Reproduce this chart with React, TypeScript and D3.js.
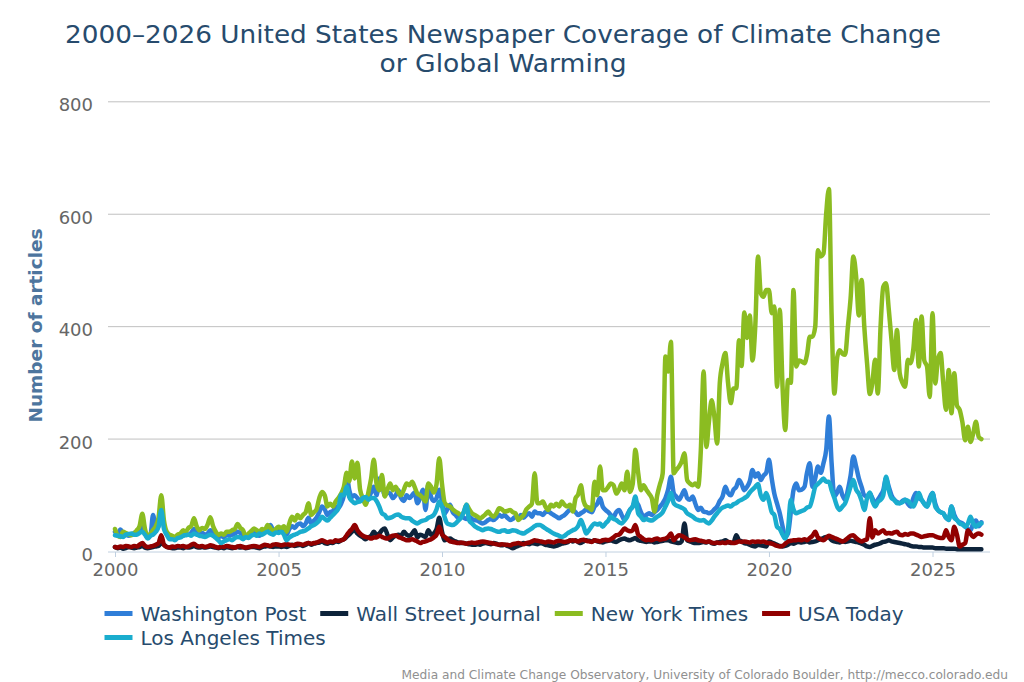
import React, { useEffect, useRef } from "react";
import * as d3 from "d3";

// monthly article counts, Jan 2000 .. Jul 2026 (one row per year)
const firstMonth = new Date(2000, 0, 1);
const lastMonth = new Date(2026, 6, 1);

const tickYears = [2000, 2005, 2010, 2015, 2020, 2025];
const yTicks = [0, 200, 400, 600, 800];

const seriesNames = ["Washington Post", "Wall Street Journal", "New York Times", "USA Today", "Los Angeles Times"];
const seriesColors = ["#2f7ed8", "#0d233a", "#8bbc21", "#910000", "#1aadce"];

const washingtonPost = [
  35, 30, 39, 32, 30, 28, 30, 33, 35, 38, 50, 35,
  25, 30, 65, 40, 45, 72, 45, 30, 28, 26, 25, 28,
  30, 28, 32, 30, 33, 40, 32, 30, 33, 30, 32, 38,
  35, 28, 25, 28, 25, 30, 28, 30, 32, 35, 33, 30,
  25, 28, 30, 33, 30, 28, 32, 35, 40, 47, 38, 35,
  41, 38, 35, 30, 40, 45, 42, 48, 50, 45, 50, 60,
  50, 55, 60, 70, 80, 75, 65, 70, 72, 80, 78, 85,
  100, 136, 110, 97, 100, 95, 90, 95, 86, 95, 105, 115,
  100, 130, 120, 100, 105, 103, 95, 100, 109, 95, 90, 100,
  95, 100, 105, 86, 95, 110, 74, 120, 97, 90, 95, 110,
  90, 68, 75, 83, 70, 65, 60, 62, 60, 58, 62, 58,
  56, 55, 52, 50, 52, 56, 58, 56, 60, 65, 62, 65,
  60, 56, 58, 62, 60, 65, 60, 65, 68, 62, 71, 68,
  68, 65, 70, 71, 68, 65, 62, 59, 62, 65, 70, 74,
  74, 70, 65, 68, 71, 75, 72, 70, 80, 85, 95, 80,
  74, 70, 65, 62, 70, 74, 65, 56, 65, 74, 80, 90,
  83, 70, 62, 65, 68, 65, 70, 74, 80, 86, 95, 110,
  133, 104, 98, 92, 100, 109, 95, 92, 98, 85, 74, 78,
  71, 70, 68, 70, 75, 80, 90, 98, 115, 104, 100, 110,
  115, 127, 120, 109, 115, 125, 145, 133, 139, 127, 135, 140,
  163, 130, 103, 85, 68, 45, 26, 32, 70, 109, 121, 109,
  110, 115, 140, 157, 115, 130, 151, 140, 157, 180, 240, 157,
  98, 105, 115, 100, 92, 110, 135, 169, 151, 130, 115, 100,
  98, 103, 95, 85, 92, 100, 109, 130, 115, 100, 92, 88,
  86, 90, 92, 85, 80, 95, 104, 95, 92, 85, 80, 95,
  104, 85, 74, 70, 68, 60, 56, 80, 65, 56, 52, 50,
  45, 40, 38, 50, 55, 45, 52,
];

const wallStreetJournal = [
  8, 6, 7, 5, 6, 8, 7, 6, 7, 8, 10, 7,
  6, 7, 8, 9, 10, 15, 12, 8, 7, 6, 6, 7,
  7, 6, 8, 7, 8, 10, 8, 7, 8, 7, 8, 9,
  8, 7, 6, 7, 6, 8, 7, 6, 7, 8, 7, 8,
  6, 7, 8, 8, 7, 6, 8, 9, 10, 9, 8, 9,
  9, 8, 9, 8, 10, 12, 10, 11, 12, 10, 12, 15,
  12, 14, 15, 16, 18, 15, 14, 16, 15, 18, 17, 20,
  22, 26, 30, 35, 38, 32, 28, 25, 22, 25, 28, 35,
  30, 32, 38, 41, 30, 20, 25, 28, 30, 28, 35, 30,
  28, 32, 38, 25, 30, 28, 26, 38, 30, 32, 40, 60,
  35, 20, 22, 23, 20, 18, 16, 15, 15, 14, 13, 12,
  12, 13, 12, 14, 15, 14, 13, 15, 14, 12, 11, 12,
  10, 8, 6, 8, 10, 12, 15, 14, 13, 15, 14, 13,
  15, 14, 12, 11, 10, 9, 10, 12, 14, 15, 16, 20,
  18, 20, 17, 15, 18, 20, 19, 18, 20, 18, 17, 16,
  18, 19, 20, 18, 17, 20, 22, 23, 21, 20, 22, 24,
  20, 19, 18, 17, 18, 18, 16, 17, 18, 19, 20, 20,
  18, 17, 16, 15, 18, 50, 20, 18, 16, 15, 15, 16,
  17, 16, 18, 15, 14, 16, 17, 18, 20, 17, 15, 16,
  29, 20, 18, 15, 14, 12, 10, 9, 12, 11, 10, 9,
  18, 16, 14, 12, 10, 9, 10, 12, 15, 14, 16, 17,
  16, 17, 18, 16, 17, 18, 20, 22, 24, 26, 25, 20,
  18, 17, 16, 18, 17, 18, 19, 18, 17, 16, 14, 12,
  9, 8, 10, 12, 13, 15, 17, 18, 20, 18, 17, 16,
  15, 14, 13, 12, 10, 9, 9, 8, 8, 7, 7, 7,
  7, 6, 6, 6, 6, 5, 5, 5, 5, 4, 4, 4,
  4, 4, 4, 4, 4, 4, 4,
];

const newYorkTimes = [
  40, 28, 26, 35, 33, 30, 29, 32, 38, 45, 67, 40,
  26, 32, 38, 45, 60, 100, 55, 35, 30, 28, 26, 30,
  32, 38, 35, 42, 45, 59, 45, 38, 42, 40, 48, 61,
  45, 35, 29, 32, 30, 35, 35, 38, 40, 49, 42, 38,
  26, 32, 36, 41, 38, 35, 40, 38, 47, 42, 36, 40,
  44, 41, 45, 35, 50, 62, 55, 65, 59, 65, 70, 86,
  65, 70, 75, 95, 106, 100, 80, 85, 80, 89, 95, 103,
  115, 140, 125, 160, 130, 158, 110, 95, 83, 105, 130, 163,
  120, 109, 136, 98, 110, 121, 109, 115, 105, 100, 110, 121,
  118, 124, 115, 103, 100, 95, 89, 121, 115, 105, 120, 166,
  120, 86, 82, 80, 75, 71, 68, 65, 70, 83, 75, 68,
  65, 62, 59, 62, 66, 71, 65, 62, 68, 77, 75, 71,
  72, 74, 70, 68, 56, 60, 65, 75, 80, 85, 139, 86,
  86, 89, 80, 74, 83, 80, 85, 80, 89, 83, 80, 83,
  71, 95, 101, 118, 90, 80, 78, 74, 124, 100, 151, 109,
  109, 115, 121, 118, 103, 110, 121, 109, 142, 106, 120, 181,
  140, 109, 118, 110, 103, 95, 71, 100, 120, 139, 347, 320,
  373, 139, 145, 151, 160, 175, 127, 121, 118, 121, 115, 180,
  320, 186, 230, 269, 240, 192, 300, 335, 353, 300, 264, 290,
  290, 376, 330, 425, 380, 420, 340, 400, 525, 460, 453, 465,
  465, 424, 436, 293, 430, 293, 216, 305, 300, 465, 329, 340,
  338, 335, 350, 382, 382, 400, 536, 525, 530, 600, 645, 420,
  281, 345, 358, 352, 350, 400, 450, 525, 489, 420, 483, 400,
  335, 280, 300, 341, 281, 400, 471, 477, 430, 376, 323, 394,
  317, 300, 293, 341, 335, 360, 412, 329, 418, 340, 329, 275,
  424, 299, 340, 353, 300, 252, 323, 246, 317, 260, 252, 230,
  198, 222, 195, 210, 231, 204, 200,
];

const usaToday = [
  8, 7, 9, 8, 10, 9, 8, 10, 9, 12, 15, 10,
  8, 9, 10, 12, 15, 29, 12, 8, 7, 9, 8, 10,
  9, 10, 8, 9, 12, 14, 10, 9, 10, 8, 9, 11,
  10, 8, 7, 9, 8, 10, 9, 8, 7, 9, 10, 8,
  7, 8, 9, 10, 9, 8, 10, 12, 11, 10, 12, 13,
  12, 11, 12, 13, 12, 11, 12, 14, 13, 12, 14, 15,
  14, 15, 16, 18, 20, 18, 16, 18, 17, 20, 19, 20,
  22, 29, 35, 40, 47, 38, 32, 28, 26, 25, 23, 25,
  25, 28, 26, 24, 23, 26, 28, 29, 26, 24, 22, 20,
  20, 22, 20, 18, 15, 17, 18, 20, 22, 25, 30, 44,
  30, 26, 22, 18, 17, 16, 15, 16, 15, 14, 15, 16,
  15, 16, 17, 18, 17, 16, 15, 14, 13, 12, 13, 12,
  12, 11, 13, 14, 15, 14, 13, 15, 16, 18, 20, 19,
  18, 17, 16, 18, 17, 16, 18, 19, 18, 17, 18, 19,
  20, 19, 18, 20, 21, 19, 18, 17, 20, 19, 18, 20,
  21, 20, 22, 25, 29, 30, 35, 41, 38, 36, 38, 47,
  30, 26, 22, 20, 21, 20, 22, 23, 21, 22, 23, 26,
  32, 20, 25, 29, 28, 25, 22, 20, 21, 22, 20, 19,
  18, 17, 18, 16, 15, 16, 15, 16, 15, 17, 16, 15,
  16, 18, 17, 18, 17, 16, 18, 17, 18, 17, 18, 16,
  15, 14, 12, 10, 9, 10, 14, 18, 19, 20, 20, 21,
  20, 22, 20, 24, 28, 35, 25, 22, 20, 24, 28, 26,
  24, 22, 20, 18, 20, 24, 28, 29, 24, 20, 18, 20,
  22, 59, 25, 38, 32, 35, 38, 32, 33, 32, 34, 35,
  30, 29, 31, 30, 32, 32, 30, 28, 26, 27, 28, 29,
  29, 27, 25, 24, 24, 38, 26, 20, 44, 30, 9, 12,
  15, 38, 32, 26, 30, 32, 30,
];

const losAngelesTimes = [
  29, 28, 27, 26, 30, 31, 32, 30, 30, 33, 35, 30,
  23, 28, 30, 35, 44, 74, 40, 30, 22, 22, 20, 24,
  25, 28, 29, 30, 28, 32, 30, 28, 27, 26, 28, 30,
  28, 24, 20, 15, 18, 20, 22, 20, 24, 26, 25, 22,
  26, 24, 28, 30, 28, 32, 30, 33, 35, 32, 30, 34,
  33, 35, 30, 20, 25, 28, 30, 32, 35, 36, 38, 41,
  45, 47, 50, 55, 62, 58, 55, 60, 65, 70, 77, 101,
  100, 115, 97, 90, 86, 88, 89, 95, 97, 92, 95, 95,
  90, 80, 68, 65, 59, 60, 62, 65, 66, 62, 60, 59,
  59, 55, 52, 50, 53, 55, 56, 60, 62, 65, 75, 89,
  80, 60, 50, 48, 47, 50, 55, 60, 70, 83, 55, 50,
  45, 42, 40, 38, 40, 41, 40, 38, 36, 35, 37, 38,
  35, 36, 38, 37, 35, 33, 32, 35, 38, 41, 45, 47,
  47, 44, 41, 38, 35, 32, 30, 28, 26, 28, 32, 35,
  38, 40, 45, 56, 45, 32, 38, 45, 50, 48, 50, 44,
  50, 55, 62, 58, 56, 52, 50, 55, 62, 74, 80, 98,
  68, 62, 56, 58, 56, 55, 58, 62, 65, 70, 80, 90,
  104, 86, 82, 80, 78, 75, 68, 65, 62, 58, 56, 55,
  56, 52, 50, 55, 62, 68, 74, 78, 80, 82, 80, 84,
  86, 90, 92, 95, 98, 105, 110, 115, 120, 100, 92, 104,
  90, 70, 65, 44, 40, 30, 23, 40, 92, 75, 68, 70,
  72, 74, 78, 80, 95, 115, 120, 125, 130, 124, 124, 109,
  95, 80, 74, 80, 86, 100, 115, 127, 110, 103, 90, 74,
  95, 105, 90, 80, 88, 92, 100, 133, 109, 95, 92, 86,
  86, 88, 92, 90, 85, 80, 90, 104, 92, 85, 80, 90,
  104, 80, 74, 70, 68, 60, 56, 80, 60, 56, 50, 48,
  44, 50, 62, 50, 44, 48, 50,
];

const seriesValues = [washingtonPost, wallStreetJournal, newYorkTimes, usaToday, losAngelesTimes];

const FONT = "'DejaVu Sans', Verdana, sans-serif";

export default function App() {
  const svgRef = useRef<SVGSVGElement>(null);

  useEffect(() => {
    const svg = d3.select(svgRef.current);
    svg.selectAll("*").remove();

    const width = 1024;
    const height = 682;
    const plotLeft = 108;
    const plotRight = 990;

    svg.attr("width", width).attr("height", height);
    svg.append("rect").attr("width", width).attr("height", height).attr("fill", "#fff");

    const months = d3.timeMonth.range(firstMonth, d3.timeMonth.offset(lastMonth, 1));

    const xScale = d3
      .scaleTime()
      .domain([new Date(2000, 0, 1), new Date(2025, 0, 1)])
      .range([115, 932.5]);

    const yScale = d3.scaleLinear().domain([0, 800]).range([551.5, 101.8]);

    // grid lines
    svg
      .append("g")
      .selectAll("line")
      .data(yTicks.filter((v) => v > 0))
      .join("line")
      .attr("x1", plotLeft)
      .attr("x2", plotRight)
      .attr("y1", (d) => yScale(d))
      .attr("y2", (d) => yScale(d))
      .attr("stroke", "#c0c0c0")
      .attr("stroke-width", 1);

    // y axis labels
    const yAxis = d3.axisLeft(yScale).tickValues(yTicks).tickSize(0).tickPadding(15);
    const yG = svg.append("g").attr("transform", `translate(${plotLeft},0)`).call(yAxis);
    yG.select(".domain").remove();
    yG.selectAll("text")
      .attr("dy", "0.5em")
      .attr("fill", "#666")
      .style("font-size", "18px")
      .style("font-family", FONT);

    // x axis
    svg
      .append("line")
      .attr("x1", plotLeft)
      .attr("x2", plotRight)
      .attr("y1", yScale(0) + 0.5)
      .attr("y2", yScale(0) + 0.5)
      .attr("stroke", "#c0d0e0")
      .attr("stroke-width", 1);

    const xAxis = d3
      .axisBottom(xScale)
      .tickValues(tickYears.map((y) => new Date(y, 0, 1)))
      .tickFormat(d3.timeFormat("%Y") as any)
      .tickSize(5)
      .tickPadding(6);
    const xG = svg.append("g").attr("transform", `translate(0,${yScale(0) + 0.5})`).call(xAxis);
    xG.select(".domain").remove();
    xG.selectAll("line").attr("stroke", "#c0d0e0");
    xG.selectAll("text")
      .attr("fill", "#666")
      .style("font-size", "18px")
      .style("font-family", FONT);

    // series
    const line = d3
      .line<number>()
      .x((d, i) => xScale(months[i]))
      .y((d) => yScale(d))
      .curve(d3.curveMonotoneX);

    svg
      .append("g")
      .selectAll("path")
      .data(seriesValues)
      .join("path")
      .attr("d", (d) => line(d))
      .attr("fill", "none")
      .attr("stroke", (d, i) => seriesColors[i])
      .attr("stroke-width", 4.5)
      .attr("stroke-linejoin", "round")
      .attr("stroke-linecap", "round");

    // title, two lines
    const titleLines = [
      { text: "2000–2026 United States Newspaper Coverage of Climate Change", y: 42.5, w: 876 },
      { text: "or Global Warming", y: 71.7, w: 247 },
    ];
    svg
      .append("g")
      .selectAll("text")
      .data(titleLines)
      .join("text")
      .attr("x", 503)
      .attr("y", (d) => d.y)
      .attr("text-anchor", "middle")
      .attr("textLength", (d) => d.w)
      .attr("lengthAdjust", "spacingAndGlyphs")
      .attr("fill", "#274b6d")
      .style("font-family", FONT)
      .style("font-size", "25px")
      .text((d) => d.text);

    // y axis title
    svg
      .append("text")
      .attr("transform", "translate(42,325.5) rotate(-90)")
      .attr("text-anchor", "middle")
      .attr("fill", "#4d759e")
      .style("font-family", FONT)
      .style("font-size", "18.5px")
      .style("font-weight", "bold")
      .text("Number of articles");

    // legend
    const legend = svg.append("g");
    let lx = 104.5;
    let ly = 613.5;
    seriesNames.forEach((name, i) => {
      const item = legend.append("g");
      item
        .append("line")
        .attr("x1", 0)
        .attr("x2", 28)
        .attr("y1", 0)
        .attr("y2", 0)
        .attr("stroke", seriesColors[i])
        .attr("stroke-width", 5);
      const t = item
        .append("text")
        .attr("x", 36)
        .attr("y", 7)
        .attr("fill", "#274b6d")
        .style("font-family", FONT)
        .style("font-size", "20px")
        .text(name);
      const w = 36 + (t.node() as SVGTextElement).getComputedTextLength();
      if (lx + w > 1000) {
        lx = 104.5;
        ly += 24;
      }
      item.attr("transform", `translate(${lx},${ly})`);
      lx += w + 14;
    });

    // credits
    svg
      .append("text")
      .attr("x", 1008)
      .attr("y", 679)
      .attr("text-anchor", "end")
      .attr("fill", "#909090")
      .style("font-family", FONT)
      .style("font-size", "12.2px")
      .text("Media and Climate Change Observatory, University of Colorado Boulder, http://mecco.colorado.edu");
  }, []);

  return (
    <svg
      ref={svgRef}
      width={1024}
      height={682}
      style={{ position: "absolute", left: 0, top: 0, display: "block" }}
    ></svg>
  );
}
